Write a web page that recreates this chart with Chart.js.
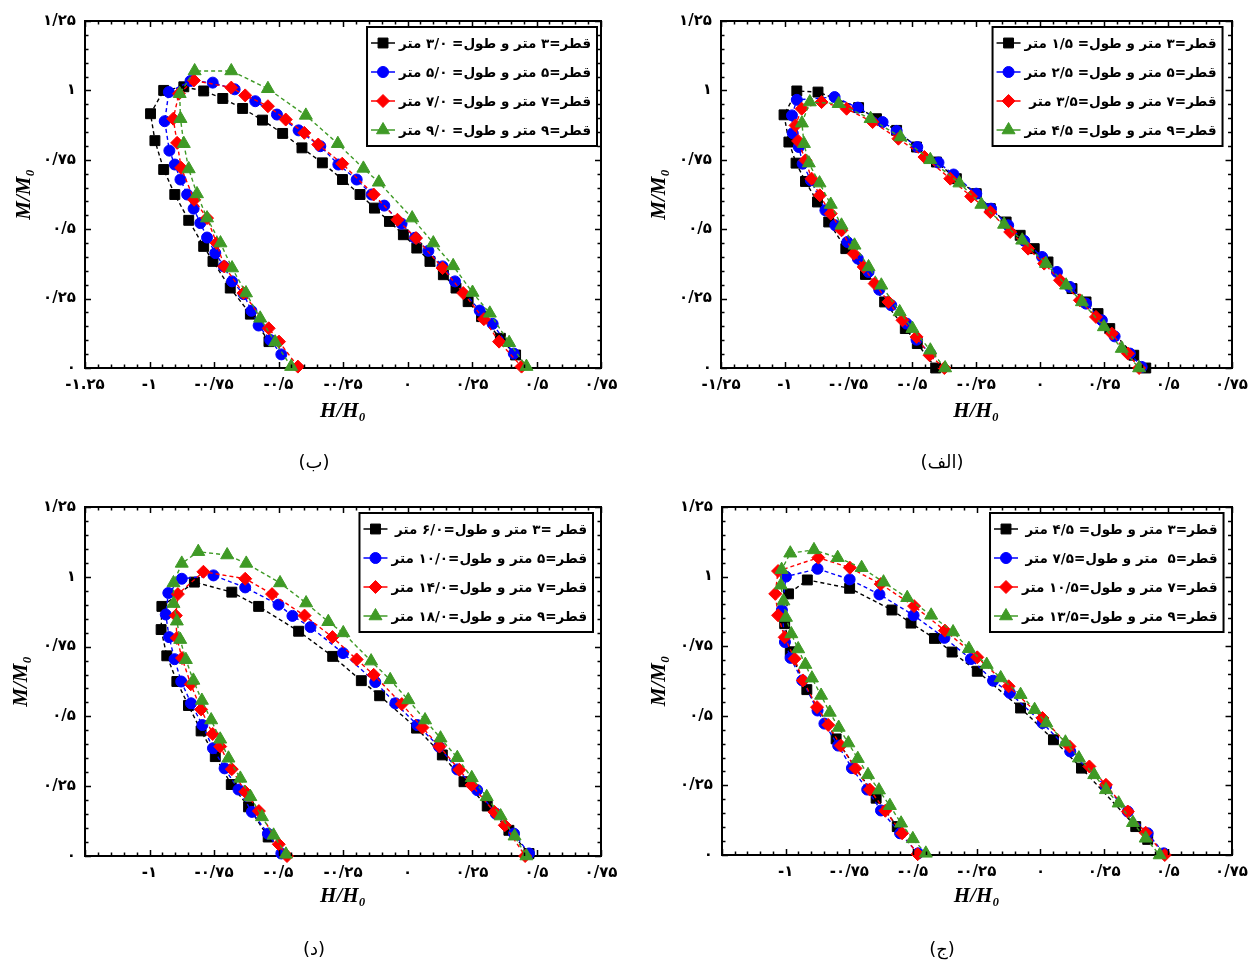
<!DOCTYPE html>
<html lang="fa">
<head>
<meta charset="utf-8">
<title>M/M0 - H/H0</title>
<script src="https://cdn.jsdelivr.net/npm/chart.js@4.4.1/dist/chart.umd.min.js"></script>
<style>
  html, body { margin: 0; padding: 0; background: #fff; }
  #wrap { position: relative; width: 1256px; height: 964px; overflow: hidden; }
  .panel { position: absolute; width: 628px; height: 482px; }
</style>
</head>
<body>
<div id="wrap">
  <div class="panel" style="left:0;top:0"><canvas id="chartBe" width="628" height="482"></canvas></div>
  <div class="panel" style="left:628px;top:0"><canvas id="chartAlef" width="628" height="482"></canvas></div>
  <div class="panel" style="left:0;top:482px"><canvas id="chartDal" width="628" height="482"></canvas></div>
  <div class="panel" style="left:628px;top:482px"><canvas id="chartJim" width="628" height="482"></canvas></div>
</div>
<script>
// برچسب محورها
const xTickValues = [-1.25, -1, -0.75, -0.5, -0.25, 0, 0.25, 0.5, 0.75];
const xLabelsBe = ['-۱.۲۵', '-۱', '-۰/۷۵', '-۰/۵', '-۰/۲۵', '۰', '۰/۲۵', '۰/۵', '۰/۷۵'];
const xLabelsAlef = ['-۱/۲۵', '-۱', '-۰/۷۵', '-۰/۵', '-۰/۲۵', '۰', '۰/۲۵', '۰/۵', '۰/۷۵'];
const xLabelsBottom = ['', '-۱', '-۰/۷۵', '-۰/۵', '-۰/۲۵', '۰', '۰/۲۵', '۰/۵', '۰/۷۵'];
const yTickValues = [0, 0.25, 0.5, 0.75, 1, 1.25];
const yLabels = ['۰', '۰/۲۵', '۰/۵', '۰/۷۵', '۱', '۱/۲۵'];

// نام سری‌ها
const namesAlef = ['قطر=۳ متر و طول= ۱/۵ متر', 'قطر=۵ متر و طول= ۲/۵ متر', 'قطر=۷ متر و طول=۳/۵ متر', 'قطر=۹ متر و طول= ۴/۵ متر'];
const namesBe = ['قطر=۳ متر و طول= ۳/۰ متر', 'قطر=۵ متر و طول= ۵/۰ متر', 'قطر=۷ متر و طول= ۷/۰ متر', 'قطر=۹ متر و طول= ۹/۰ متر'];
const namesJim = ['قطر=۳ متر و طول= ۴/۵ متر', 'قطر=۵  متر و طول=۷/۵ متر', 'قطر=۷ متر و طول=۱۰/۵ متر', 'قطر=۹ متر و طول=۱۳/۵ متر'];
const namesDal = ['قطر =۳ متر و طول=۶/۰ متر', 'قطر=۵ متر و طول=۱۰/۰ متر', 'قطر=۷ متر و طول=۱۴/۰ متر', 'قطر=۹ متر و طول=۱۸/۰ متر'];

// (الف) [H/H0, M/M0]
const alefD3 = [[-0.409,0], [-0.481,0.088], [-0.528,0.142], [-0.609,0.238], [-0.684,0.337], [-0.761,0.430], [-0.828,0.526], [-0.872,0.598], [-0.919,0.672], [-0.956,0.738], [-0.984,0.814], [-1.003,0.912], [-0.953,0.998], [-0.870,0.994], [-0.711,0.938], [-0.641,0.898], [-0.562,0.856], [-0.484,0.796], [-0.406,0.742], [-0.328,0.682], [-0.250,0.628], [-0.195,0.574], [-0.133,0.526], [-0.078,0.478], [-0.023,0.430], [0.031,0.382], [0.125,0.286], [0.180,0.238], [0.227,0.196], [0.273,0.142], [0.367,0.046], [0.414,0]];
const alefD5 = [[-0.430,0.052], [-0.484,0.102], [-0.523,0.160], [-0.583,0.226], [-0.630,0.282], [-0.672,0.346], [-0.714,0.394], [-0.755,0.454], [-0.802,0.514], [-0.841,0.568], [-0.898,0.676], [-0.930,0.736], [-0.945,0.796], [-0.969,0.846], [-0.972,0.910], [-0.953,0.966], [-0.805,0.976], [-0.714,0.938], [-0.617,0.886], [-0.562,0.854], [-0.481,0.796], [-0.398,0.740], [-0.339,0.697], [-0.250,0.628], [-0.192,0.574], [-0.125,0.514], [-0.062,0.458], [0.008,0.400], [0.066,0.346], [0.117,0.292], [0.180,0.232], [0.242,0.172], [0.292,0.114], [0.352,0.052], [0.398,0.004]];
const alefD7 = [[-0.375,0], [-0.433,0.046], [-0.484,0.112], [-0.539,0.172], [-0.594,0.238], [-0.648,0.304], [-0.691,0.364], [-0.730,0.412], [-0.778,0.496], [-0.820,0.556], [-0.863,0.622], [-0.895,0.682], [-0.919,0.748], [-0.948,0.818], [-0.958,0.874], [-0.934,0.934], [-0.856,0.958], [-0.758,0.934], [-0.656,0.886], [-0.555,0.826], [-0.453,0.760], [-0.352,0.682], [-0.270,0.618], [-0.195,0.562], [-0.117,0.490], [-0.047,0.430], [0.016,0.376], [0.078,0.316], [0.156,0.244], [0.219,0.184], [0.281,0.124], [0.344,0.052], [0.388,0]];
const alefD9 = [[-0.372,0], [-0.430,0.064], [-0.500,0.142], [-0.550,0.202], [-0.622,0.298], [-0.672,0.364], [-0.727,0.442], [-0.778,0.514], [-0.820,0.589], [-0.864,0.666], [-0.906,0.738], [-0.925,0.808], [-0.933,0.882], [-0.902,0.958], [-0.789,0.952], [-0.664,0.898], [-0.547,0.832], [-0.430,0.750], [-0.316,0.666], [-0.230,0.589], [-0.141,0.517], [-0.070,0.460], [0.023,0.376], [0.102,0.298], [0.164,0.238], [0.250,0.148], [0.320,0.070], [0.388,0]];

// (ب)
const beD3 = [[-0.537,0.095], [-0.609,0.194], [-0.687,0.288], [-0.754,0.384], [-0.790,0.438], [-0.848,0.532], [-0.902,0.625], [-0.945,0.715], [-0.979,0.819], [-0.996,0.916], [-0.945,1.000], [-0.867,1.013], [-0.790,0.998], [-0.716,0.971], [-0.639,0.935], [-0.562,0.893], [-0.484,0.845], [-0.409,0.793], [-0.330,0.739], [-0.252,0.679], [-0.184,0.625], [-0.128,0.576], [-0.070,0.528], [-0.016,0.480], [0.036,0.432], [0.087,0.384], [0.139,0.336], [0.188,0.288], [0.235,0.239], [0.287,0.185], [0.360,0.107], [0.419,0.047]];
const beD5 = [[-0.489,0.049], [-0.532,0.101], [-0.577,0.153], [-0.605,0.206], [-0.635,0.266], [-0.680,0.312], [-0.712,0.366], [-0.745,0.414], [-0.777,0.470], [-0.803,0.522], [-0.829,0.574], [-0.854,0.625], [-0.880,0.679], [-0.902,0.733], [-0.923,0.783], [-0.941,0.889], [-0.925,0.994], [-0.841,1.034], [-0.755,1.028], [-0.670,1.004], [-0.590,0.961], [-0.506,0.913], [-0.422,0.856], [-0.338,0.799], [-0.268,0.733], [-0.197,0.679], [-0.139,0.625], [-0.090,0.585], [-0.023,0.520], [0.029,0.469], [0.081,0.422], [0.136,0.366], [0.184,0.312], [0.280,0.207], [0.330,0.159], [0.412,0.052]];
const beD7 = [[-0.425,0.005], [-0.498,0.095], [-0.538,0.143], [-0.636,0.270], [-0.710,0.366], [-0.740,0.450], [-0.777,0.540], [-0.827,0.606], [-0.877,0.721], [-0.893,0.811], [-0.908,0.898], [-0.886,0.988], [-0.828,1.036], [-0.683,1.010], [-0.629,0.982], [-0.541,0.943], [-0.472,0.895], [-0.400,0.847], [-0.346,0.805], [-0.253,0.736], [-0.131,0.625], [-0.039,0.534], [0.033,0.468], [0.136,0.360], [0.216,0.270], [0.296,0.176], [0.355,0.095], [0.442,0.005]];
const beD9 = [[-0.451,0.005], [-0.513,0.093], [-0.571,0.179], [-0.626,0.270], [-0.680,0.360], [-0.725,0.450], [-0.777,0.540], [-0.816,0.627], [-0.848,0.717], [-0.867,0.808], [-0.880,0.898], [-0.883,0.988], [-0.825,1.070], [-0.683,1.070], [-0.541,1.006], [-0.394,0.910], [-0.270,0.808], [-0.171,0.719], [-0.111,0.669], [0.018,0.540], [0.100,0.450], [0.177,0.368], [0.252,0.272], [0.319,0.197], [0.394,0.091], [0.461,0.005]];

// (ج)
const jimD3 = [[-0.562,0.102], [-0.645,0.204], [-0.802,0.417], [-0.917,0.594], [-0.982,0.730], [-1.004,0.831], [-0.989,0.938], [-0.915,0.988], [-0.749,0.958], [-0.583,0.880], [-0.508,0.833], [-0.416,0.778], [-0.347,0.729], [-0.248,0.660], [-0.078,0.528], [0.051,0.414], [0.161,0.312], [0.374,0.102], [0.421,0.056]];
const jimD5 = [[-0.480,0.006], [-0.551,0.078], [-0.626,0.160], [-0.680,0.235], [-0.740,0.312], [-0.794,0.393], [-0.848,0.472], [-0.875,0.519], [-0.935,0.627], [-0.981,0.708], [-1.003,0.765], [-1.015,0.880], [-0.999,1.000], [-0.875,1.028], [-0.749,0.990], [-0.632,0.936], [-0.498,0.861], [-0.377,0.780], [-0.273,0.704], [-0.186,0.626], [-0.120,0.582], [0.008,0.474], [0.117,0.372], [0.257,0.246], [0.343,0.156], [0.421,0.078], [0.484,0.006]];
const jimD7 = [[-0.482,0.003], [-0.543,0.078], [-0.609,0.159], [-0.670,0.235], [-0.726,0.311], [-0.784,0.393], [-0.833,0.467], [-0.877,0.531], [-0.932,0.627], [-0.965,0.705], [-1.004,0.782], [-1.030,0.861], [-1.041,0.938], [-1.030,1.020], [-0.872,1.068], [-0.748,1.032], [-0.627,0.973], [-0.496,0.894], [-0.375,0.806], [-0.248,0.710], [-0.125,0.606], [0.008,0.492], [0.114,0.390], [0.192,0.318], [0.257,0.252], [0.343,0.156], [0.413,0.080], [0.488,0]];
const jimD9 = [[-0.450,0.006], [-0.501,0.058], [-0.547,0.114], [-0.591,0.177], [-0.634,0.233], [-0.677,0.288], [-0.717,0.346], [-0.754,0.402], [-0.792,0.458], [-0.827,0.512], [-0.861,0.573], [-0.897,0.635], [-0.923,0.684], [-0.951,0.740], [-0.978,0.794], [-0.999,0.853], [-1.009,0.912], [-1.019,0.969], [-1.016,1.025], [-0.982,1.084], [-0.889,1.096], [-0.796,1.068], [-0.702,1.032], [-0.616,0.980], [-0.523,0.924], [-0.429,0.861], [-0.343,0.801], [-0.281,0.741], [-0.211,0.684], [-0.156,0.636], [-0.078,0.576], [-0.023,0.522], [0.023,0.474], [0.098,0.405], [0.151,0.348], [0.211,0.288], [0.257,0.234], [0.307,0.186], [0.363,0.116], [0.413,0.060], [0.468,0]];

// (د)
const dalD3 = [[-0.540,0.068], [-0.616,0.176], [-0.683,0.256], [-0.745,0.356], [-0.800,0.448], [-0.849,0.539], [-0.894,0.625], [-0.933,0.717], [-0.955,0.811], [-0.952,0.894], [-0.826,0.981], [-0.681,0.945], [-0.577,0.894], [-0.422,0.805], [-0.290,0.715], [-0.179,0.628], [-0.108,0.574], [0.035,0.458], [0.135,0.362], [0.219,0.266], [0.309,0.179], [0.393,0.092], [0.471,0.009]];
const dalD5 = [[-0.489,0.009], [-0.541,0.080], [-0.603,0.158], [-0.655,0.238], [-0.709,0.314], [-0.754,0.386], [-0.795,0.469], [-0.839,0.547], [-0.877,0.625], [-0.903,0.705], [-0.924,0.784], [-0.937,0.865], [-0.927,0.942], [-0.875,0.993], [-0.752,1.005], [-0.629,0.962], [-0.500,0.900], [-0.446,0.860], [-0.376,0.820], [-0.250,0.727], [-0.125,0.623], [-0.047,0.547], [0.038,0.469], [0.122,0.392], [0.193,0.310], [0.270,0.236], [0.342,0.152], [0.413,0.080], [0.471,0.009]];
const dalD7 = [[-0.467,0], [-0.499,0.042], [-0.576,0.161], [-0.629,0.230], [-0.681,0.311], [-0.726,0.392], [-0.755,0.437], [-0.800,0.525], [-0.840,0.615], [-0.874,0.709], [-0.894,0.781], [-0.898,0.861], [-0.890,0.938], [-0.791,1.018], [-0.629,0.993], [-0.525,0.938], [-0.399,0.861], [-0.291,0.784], [-0.197,0.704], [-0.131,0.649], [-0.022,0.544], [0.058,0.460], [0.124,0.392], [0.201,0.309], [0.248,0.254], [0.337,0.158], [0.377,0.110], [0.456,0]];
const dalD9 = [[-0.471,0.006], [-0.519,0.074], [-0.564,0.140], [-0.609,0.212], [-0.648,0.278], [-0.694,0.350], [-0.726,0.418], [-0.761,0.487], [-0.797,0.557], [-0.830,0.629], [-0.859,0.703], [-0.881,0.775], [-0.894,0.841], [-0.907,0.904], [-0.907,0.978], [-0.875,1.048], [-0.811,1.090], [-0.699,1.078], [-0.625,1.048], [-0.494,0.978], [-0.393,0.906], [-0.307,0.839], [-0.249,0.799], [-0.141,0.698], [-0.067,0.631], [0.003,0.559], [0.068,0.487], [0.128,0.422], [0.193,0.352], [0.249,0.280], [0.307,0.212], [0.361,0.143], [0.415,0.071], [0.461,0]];

// ظاهر سری‌ها: مربع سیاه، دایره آبی، لوزی قرمز، مثلث سبز
const styles = [
  { color: '#000000', pointStyle: 'rect', radius: 7, order: 4 },
  { color: '#0000ff', pointStyle: 'circle', radius: 5.5, order: 3 },
  { color: '#ff0000', pointStyle: 'rectRot', radius: 6.5, order: 2 },
  { color: '#3f9a26', pointStyle: 'triangle', radius: 7.5, order: 1 }
];

const W = 628, H = 482;
const tickFont = { family: 'DejaVu Sans', size: 15, weight: 'bold' };
const titleFont = { family: "'Liberation Serif', 'DejaVu Serif', serif", size: 21, weight: 'bold', style: 'italic' };
const captionFont = { family: 'DejaVu Sans', size: 18, weight: 'normal', lineHeight: 1.2 };
const legendFont = 'bold 13.5px "DejaVu Sans"';

function labelFor(value, values, labels) {
  for (let i = 0; i < values.length; i++) {
    if (Math.abs(values[i] - value) < 1e-6) return labels[i];
  }
  return '';
}

// تیک‌های داخلی روی چهار ضلع قاب
const innerTicks = {
  id: 'innerTicks',
  afterDatasetsDraw(chart) {
    const { ctx, chartArea: a, scales: { x, y } } = chart;
    ctx.save();
    ctx.strokeStyle = '#000';
    ctx.lineWidth = 1.5;
    ctx.beginPath();
    for (let i = 0; i <= 40; i++) {
      const px = Math.round(x.getPixelForValue(x.min + i * 0.05)) + 0.5;
      const len = i % 5 === 0 ? 6 : 3.5;
      ctx.moveTo(px, a.bottom); ctx.lineTo(px, a.bottom - len);
      ctx.moveTo(px, a.top); ctx.lineTo(px, a.top + len);
    }
    for (let i = 0; i <= 25; i++) {
      const py = Math.round(y.getPixelForValue(y.min + i * 0.05)) + 0.5;
      const len = i % 5 === 0 ? 6 : 3.5;
      ctx.moveTo(a.left, py); ctx.lineTo(a.left + len, py);
      ctx.moveTo(a.right, py); ctx.lineTo(a.right - len, py);
    }
    ctx.stroke();
    ctx.restore();
  }
};

// راهنمای قاب‌دار داخل ناحیه نمودار
const boxLegend = {
  id: 'boxLegend',
  afterDraw(chart, args, opts) {
    const { ctx, chartArea: a } = chart;
    const sets = chart.data.datasets.slice().sort((p, q) => q.order - p.order);
    ctx.save();
    ctx.font = legendFont;
    ctx.direction = 'rtl';
    const textW = Math.max(...sets.map(d => ctx.measureText(d.label).width));
    const rowH = 29;
    const w = 30 + textW + 8;
    const h = rowH * sets.length + 3;
    const right = a.right - opts.dr;
    const top = a.top + opts.dt;
    const left = right - w;
    ctx.fillStyle = '#fff';
    ctx.fillRect(left, top, w, h);
    ctx.lineWidth = 2;
    ctx.strokeStyle = '#000';
    ctx.strokeRect(left, top, w, h);
    sets.forEach((d, i) => {
      const cy = top + 1.5 + rowH * (i + 0.5);
      ctx.strokeStyle = d.borderColor;
      ctx.lineWidth = 1.5;
      ctx.beginPath();
      ctx.moveTo(left + 4, cy);
      ctx.lineTo(left + 28, cy);
      ctx.stroke();
      ctx.fillStyle = d.backgroundColor;
      ctx.lineWidth = 1;
      Chart.helpers.drawPoint(ctx, { pointStyle: d.pointStyle, radius: d.pointRadius, rotation: 0, borderWidth: 1 }, left + 16, cy);
      ctx.fillStyle = '#000';
      ctx.textAlign = 'right';
      ctx.textBaseline = 'middle';
      ctx.fillText(d.label, right - 6, cy + 1);
    });
    ctx.restore();
  }
};

function makeChart(p) {
  const a = p.area;
  const captionH = captionFont.size * captionFont.lineHeight + p.capPad;
  const xBottom = H - captionH;
  const datasets = p.series.map((s, i) => ({
    label: p.names[i],
    data: s.map(pt => ({ x: pt[0], y: pt[1] })),
    showLine: true,
    borderColor: styles[i].color,
    backgroundColor: styles[i].color,
    borderWidth: 1.4,
    borderDash: [4, 3],
    pointStyle: styles[i].pointStyle,
    pointRadius: styles[i].radius,
    pointBorderWidth: 1,
    pointHoverRadius: styles[i].radius,
    tension: 0,
    order: styles[i].order,
    clip: false
  }));
  return new Chart(document.getElementById(p.id), {
    type: 'scatter',
    data: { datasets: datasets },
    options: {
      responsive: false,
      animation: false,
      layout: { padding: 0 },
      plugins: {
        legend: { display: false },
        tooltip: { enabled: false },
        title: {
          display: true,
          position: 'bottom',
          text: p.caption,
          color: '#000',
          font: captionFont,
          padding: { top: 0, bottom: p.capPad }
        },
        boxLegend: p.legend
      },
      scales: {
        x: {
          type: 'linear', position: 'bottom', min: -1.25, max: 0.75,
          ticks: {
            stepSize: 0.25, padding: 8, color: '#000', font: tickFont, maxRotation: 0, autoSkip: false,
            callback: v => labelFor(v, xTickValues, p.xLabels)
          },
          grid: { display: false, drawTicks: false },
          border: { display: true, color: '#000', width: 2 },
          title: {
            display: true, text: 'H/H₀', color: '#000', font: titleFont,
            padding: { top: 0, bottom: xBottom - p.xTitleY - titleFont.size * 0.6 }
          },
          afterFit: s => { s.height = xBottom - a.b; }
        },
        x2: {
          type: 'linear', position: 'top', min: -1.25, max: 0.75,
          ticks: { display: false, stepSize: 0.25 },
          grid: { display: false, drawTicks: false },
          border: { display: true, color: '#000', width: 2 },
          afterFit: s => { s.height = a.t; }
        },
        y: {
          type: 'linear', position: 'left', min: 0, max: 1.25,
          ticks: {
            stepSize: 0.25, padding: 9, color: '#000', font: tickFont,
            callback: v => labelFor(v, yTickValues, yLabels)
          },
          grid: { display: false, drawTicks: false },
          border: { display: true, color: '#000', width: 2 },
          title: {
            display: true, text: 'M/M₀', color: '#000', font: titleFont,
            padding: { top: p.yTitleX - titleFont.size * 0.6, bottom: 0 }
          },
          afterFit: s => { s.width = a.l; }
        },
        y2: {
          type: 'linear', position: 'right', min: 0, max: 1.25,
          ticks: { display: false, stepSize: 0.25 },
          grid: { display: false, drawTicks: false },
          border: { display: true, color: '#000', width: 2 },
          afterFit: s => { s.width = W - a.r; }
        }
      }
    },
    plugins: [innerTicks, boxLegend]
  });
}

makeChart({ id: 'chartBe', area: { l: 85, t: 21, r: 601, b: 368 }, capPad: 8, xTitleY: 412, yTitleX: 25,
  caption: '(ب)', xLabels: xLabelsBe, names: namesBe, series: [beD3, beD5, beD7, beD9], legend: { dr: 4, dt: 6 } });
makeChart({ id: 'chartAlef', area: { l: 93, t: 21, r: 610, b: 368 }, capPad: 8, xTitleY: 412, yTitleX: 32,
  caption: '(الف)', xLabels: xLabelsAlef, names: namesAlef, series: [alefD3, alefD5, alefD7, alefD9], legend: { dr: 9, dt: 6 } });
makeChart({ id: 'chartDal', area: { l: 85, t: 25, r: 601, b: 374 }, capPad: 3, xTitleY: 415, yTitleX: 22,
  caption: '(د)', xLabels: xLabelsBottom, names: namesDal, series: [dalD3, dalD5, dalD7, dalD9], legend: { dr: 8, dt: 6 } });
makeChart({ id: 'chartJim', area: { l: 94, t: 25, r: 609, b: 373 }, capPad: 3, xTitleY: 415, yTitleX: 32,
  caption: '(ج)', xLabels: xLabelsBottom, names: namesJim, series: [jimD3, jimD5, jimD7, jimD9], legend: { dr: 8, dt: 6 } });
</script>
</body>
</html>
